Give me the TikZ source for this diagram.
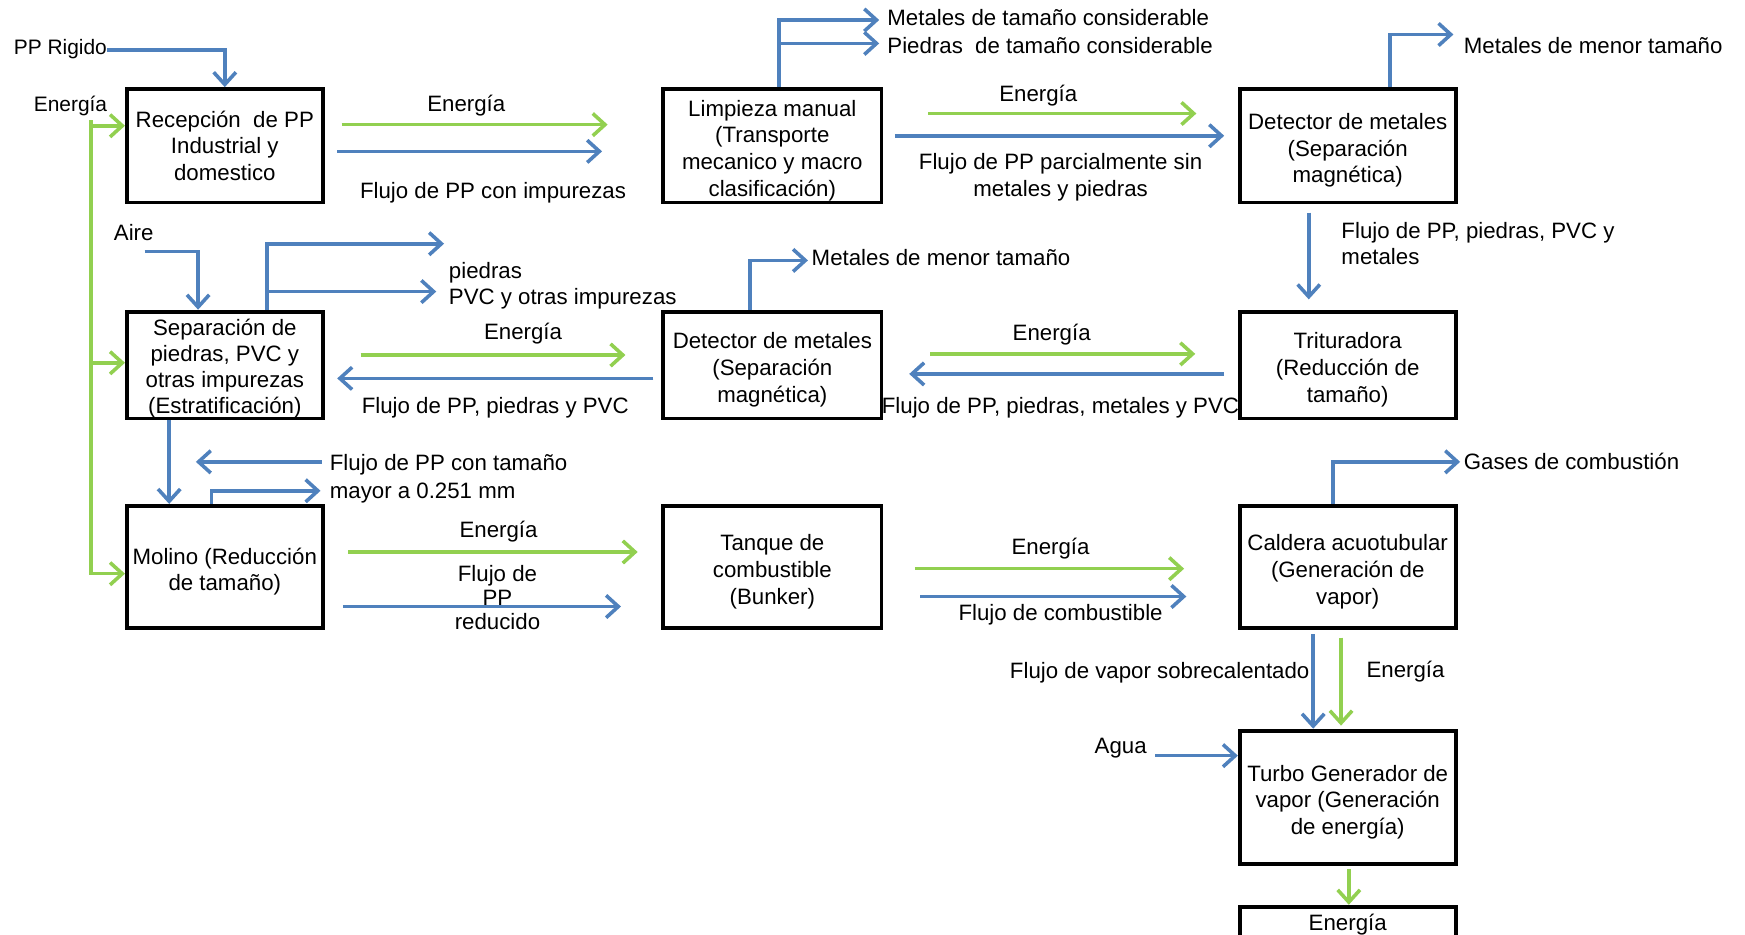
\documentclass[tikz,border=0pt]{standalone}
\usepackage{fontspec}
\setmainfont{Liberation Sans}
\usetikzlibrary{arrows.meta}
\definecolor{flowblue}{RGB}{79,129,189}
\definecolor{flowgreen}{RGB}{146,208,80}
% tall first-line strut so box texts sit a little lower
\newcommand{\topstrut}{\rule{0pt}{11.5pt}}
\tikzset{
  txt/.style={font=\fontsize{10}{12}\selectfont},
  proc/.style={txt, draw=black, line width=1.7pt, align=center, inner sep=0pt},
  lbl/.style={txt, inner sep=0pt, text=black},
  tipb/.style={-{Straight Barb[length=5.5pt,width=10pt]}},
  matf/.style={draw=flowblue, line width=1.6pt, tipb},
  enf/.style={draw=flowgreen, line width=1.6pt, tipb},
}
\begin{document}
\begin{tikzpicture}[x=0.5pt,y=-0.5pt]
\useasboundingbox (0,0) rectangle (1568,840);
\fill[white] (0,0) rectangle (1568,840);
\clip (0,0) rectangle (1568,840);

% process boxes
\node[proc, minimum width=88pt, minimum height=51pt] (rec) at (202,131) {Recepción\ \ de PP\\Industrial y\\domestico};
\node[proc, minimum width=98pt, minimum height=51pt] (lim) at (694,131) {\topstrut Limpieza manual\\(Transporte\\mecanico y macro\\clasificación)};
\node[proc, minimum width=97pt, minimum height=51pt] (det1) at (1211,131) {\topstrut Detector de metales\\(Separación\\magnética)};
\node[proc, minimum width=88pt, minimum height=48pt, font=\fontsize{10}{11.7}\selectfont] (sep) at (202,328) {\rule{0pt}{10.4pt}Separación de\\piedras, PVC y\\otras impurezas\\(Estratificación)};
\node[proc, minimum width=98pt, minimum height=48pt] (det2) at (694,328) {\topstrut Detector de metales\\(Separación\\magnética)};
\node[proc, minimum width=97pt, minimum height=48pt] (tri) at (1211,328) {\topstrut Trituradora\\(Reducción de\\tamaño)};
\node[proc, minimum width=88pt, minimum height=55pt] (mol) at (202,509.5) {\topstrut Molino (Reducción\\de tamaño)};
\node[proc, minimum width=98pt, minimum height=55pt] (tan) at (694,509.5) {\topstrut Tanque de\\combustible\\(Bunker)};
\node[proc, minimum width=97pt, minimum height=55pt] (cal) at (1211,509.5) {\topstrut Caldera acuotubular\\(Generación de\\vapor)};
\node[proc, minimum width=97pt, minimum height=60pt] (tur) at (1211,716.5) {\topstrut Turbo Generador de\\vapor (Generación\\de energía)};
\node[proc, anchor=north, minimum width=97pt, minimum height=20pt, text height=10.5pt, text depth=9.5pt] (eout) at (1211,813) {Energía};

% raw material input
\node[lbl, anchor=base west, font=\fontsize{9.4}{11}\selectfont] (ppr) at (12,49) {PP Rigido};
\coordinate (pprc) at (202,45);
\draw[matf] (ppr.east |- pprc) -- (pprc) -- (rec.north);

% energy supply to the first column
\node[lbl, anchor=base west, font=\fontsize{9.4}{11}\selectfont] at (30,100) {Energía};
\coordinate (gtop) at (82,108);
\draw[enf] (gtop) |- ([yshift=-3pt]mol.west);
\draw[enf] ([yshift=9pt]rec.west -| gtop) -- ([yshift=9pt]rec.west);
\draw[enf] ([yshift=1pt]sep.west -| gtop) -- ([yshift=1pt]sep.west);

% reception -> manual cleaning
\coordinate (e1a) at (307,112); \coordinate (e1b) at (546,112);
\draw[enf] (e1a) -- (e1b);
\node[lbl, anchor=base] at (419,100) {Energía};
\coordinate (f1a) at (303,136); \coordinate (f1b) at (541,136);
\draw[matf] (f1a) -- (f1b);
\node[lbl, anchor=base] at (443,178) {Flujo de PP con impurezas};

% manual cleaning rejects
\coordinate (lc) at (700,18);
\coordinate (l1) at (790,18); \coordinate (l2) at (790,39);
\draw[matf] (lc |- lim.north) -- (lc) -- (l1);
\draw[matf] (lc |- l2) -- (l2);
\node[lbl, anchor=base west] at (797,23) {Metales de tamaño considerable};
\node[lbl, anchor=base west] at (797,48) {Piedras\ \ de tamaño considerable};

% manual cleaning -> metal detector
\coordinate (e2a) at (834,102); \coordinate (e2b) at (1075,102);
\draw[enf] (e2a) -- (e2b);
\node[lbl, anchor=base] at (933,91) {Energía};
\coordinate (f2a) at (804,122); \coordinate (f2b) at (1100,122);
\draw[matf] (f2a) -- (f2b);
\node[lbl, align=center] at (953,159) {Flujo de PP parcialmente sin\\metales y piedras};

% metal detector reject
\coordinate (dc) at (1249,31); \coordinate (dt) at (1306,31);
\draw[matf] (dc |- det1.north) -- (dc) -- (dt);
\node[lbl, anchor=base west] at (1315,48) {Metales de menor tamaño};

% metal detector -> crusher
\coordinate (v1a) at (1176,191); \coordinate (v1b) at (1176,269);
\draw[matf] (v1a) -- (v1b);
\node[lbl, anchor=west, align=left, font=\fontsize{10}{11.5}\selectfont] at (1205,219) {Flujo de PP, piedras, PVC y\\metales};

% crusher -> second metal detector
\coordinate (e3a) at (836,318); \coordinate (e3b) at (1074,318);
\draw[enf] (e3a) -- (e3b);
\node[lbl, anchor=base] at (945,306) {Energía};
\coordinate (f3a) at (1100,336); \coordinate (f3b) at (817,336);
\draw[matf] (f3a) -- (f3b);
\node[lbl, anchor=base west] at (792,372) {Flujo de PP, piedras, metales y PVC};

% second metal detector reject
\coordinate (d2c) at (674,234); \coordinate (d2t) at (726,234);
\draw[matf] (d2c |- det2.north) -- (d2c) -- (d2t);
\node[lbl, anchor=base west] at (729,239) {Metales de menor tamaño};

% second metal detector -> stratification
\coordinate (e4a) at (324,319); \coordinate (e4b) at (562,319);
\draw[enf] (e4a) -- (e4b);
\node[lbl, anchor=base] at (470,305) {Energía};
\coordinate (f4a) at (587,340); \coordinate (f4b) at (303,340);
\draw[matf] (f4a) -- (f4b);
\node[lbl, anchor=base] at (445,372) {Flujo de PP, piedras y PVC};

% air input
\node[lbl, anchor=base west] at (102,216) {Aire};
\coordinate (ai) at (130,226); \coordinate (ac) at (178,226);
\draw[matf] (ai) -- (ac) -- (ac |- sep.north);

% stratification rejects
\coordinate (sc) at (240,219);
\coordinate (s1) at (399,219); \coordinate (s2) at (392,262);
\draw[matf] (sc |- sep.north) -- (sc) -- (s1);
\draw[matf] (sc |- s2) -- (s2);
\node[lbl, anchor=base west] at (403,250) {piedras};
\node[lbl, anchor=base west] at (403,274) {PVC y otras impurezas};

% stratification -> mill
\coordinate (sx) at (152,400);
\draw[matf] (sx |- sep.south) -- (sx |- mol.north);

% mill recirculation
\coordinate (r1a) at (289,415); \coordinate (r1b) at (176,415);
\draw[matf] (r1a) -- (r1b);
\coordinate (mc) at (190,441); \coordinate (mt) at (288,441);
\draw[matf] (mc |- mol.north) -- (mc) -- (mt);
\node[lbl, anchor=west, align=left, font=\fontsize{10}{12.5}\selectfont] at (296,430) {Flujo de PP con tamaño\\mayor a 0.251 mm};

% mill -> fuel tank
\coordinate (e5a) at (313,496); \coordinate (e5b) at (573,496);
\draw[enf] (e5a) -- (e5b);
\node[lbl, anchor=base] at (448,483) {Energía};
\coordinate (f5a) at (308,545); \coordinate (f5b) at (558,545);
\draw[matf] (f5a) -- (f5b);
\node[lbl, align=center, font=\fontsize{10}{10.8}\selectfont] at (447,537) {Flujo de\\PP\\reducido};

% fuel tank -> boiler
\coordinate (e6a) at (822,511); \coordinate (e6b) at (1064,511);
\draw[enf] (e6a) -- (e6b);
\node[lbl, anchor=base] at (944,498) {Energía};
\coordinate (f6a) at (827,536); \coordinate (f6b) at (1066,536);
\draw[matf] (f6a) -- (f6b);
\node[lbl, anchor=base] at (953,558) {Flujo de combustible};

% boiler exhaust
\coordinate (cc) at (1198,415); \coordinate (ct) at (1312,415);
\draw[matf] (cc |- cal.north) -- (cc) -- (ct);
\node[lbl, anchor=base west] at (1315,422) {Gases de combustión};

% boiler -> turbo generator
\coordinate (vb) at (1180,570);
\draw[matf] (vb) -- (vb |- tur.north);
\node[lbl, anchor=base east] at (1177,610) {Flujo de vapor sobrecalentado};
\coordinate (vg) at (1205,573); \coordinate (vgt) at (1205,652);
\draw[enf] (vg) -- (vgt);
\node[lbl, anchor=base] at (1263,609) {Energía};

% water input
\node[lbl, anchor=base] at (1007,677) {Agua};
\coordinate (aw) at (1038,679);
\draw[matf] (aw) -- (aw -| tur.west);

% generated energy
\coordinate (ex) at (1212,781);
\draw[enf] (ex) -- (ex |- eout.north);
\end{tikzpicture}
\end{document}
